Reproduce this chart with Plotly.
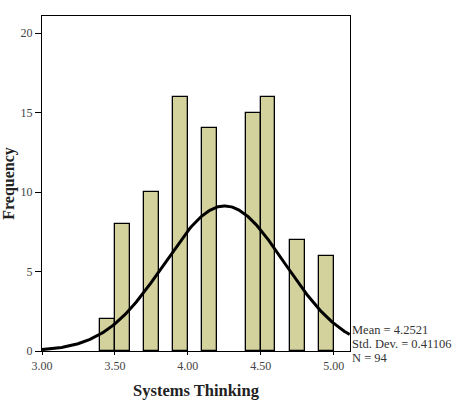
import numpy as np
import plotly.graph_objects as go

bin_starts = [3.4, 3.5, 3.7, 3.9, 4.1, 4.4, 4.5, 4.7, 4.9]
counts = [2, 8, 10, 16, 14, 15, 16, 7, 6]
bin_width = 0.1
mean = 4.2521
sd = 0.41106
n = 94
x_ticks = [3.0, 3.5, 4.0, 4.5, 5.0]
x_tick_labels = ["3.00", "3.50", "4.00", "4.50", "5.00"]
y_ticks = [0, 5, 10, 15, 20]
stats = ["Mean = 4.2521", "Std. Dev. = 0.41106", "N = 94"]

centers = [b + bin_width / 2 for b in bin_starts]
xs = np.linspace(3.0, 5.11, 300)
ys = n * bin_width / (sd * np.sqrt(2 * np.pi)) * np.exp(-0.5 * ((xs - mean) / sd) ** 2)

fig = go.Figure()
fig.add_trace(go.Bar(x=centers, y=counts, width=bin_width,
                     marker=dict(color="#D3D19C", line=dict(color="black", width=1.3)),
                     hoverinfo="skip"))
fig.add_trace(go.Scatter(x=xs, y=ys, mode="lines", line=dict(color="black", width=3),
                         hoverinfo="skip"))

font = "Liberation Serif, Times New Roman, serif"
fig.update_layout(
    width=452, height=408, showlegend=False,
    margin=dict(l=42, r=102, t=16, b=57),
    paper_bgcolor="white", plot_bgcolor="white",
    font=dict(family=font, color="#333333", size=12),
    bargap=0,
)
fig.update_xaxes(range=[3.0, 5.112], tickvals=x_ticks, ticktext=x_tick_labels,
                 showgrid=False, zeroline=False, showline=True, linecolor="black", linewidth=1.2,
                 mirror=True, ticks="outside", ticklen=3, tickcolor="black", automargin=False,
                 tickfont=dict(family=font, size=12, color="#444444"),
                 title=dict(text="<b>Systems Thinking</b>", font=dict(family=font, size=16.5, color="#222222"),
                            standoff=12))
fig.update_yaxes(range=[0, 21.07], tickvals=y_ticks,
                 showgrid=False, zeroline=False, showline=True, linecolor="black", linewidth=1.2,
                 mirror=True, ticks="outside", ticklen=6, tickcolor="black", automargin=False,
                 tickfont=dict(family=font, size=12, color="#444444"),
                 title=dict(text="<b>Frequency</b>", font=dict(family=font, size=16, color="#222222"),
                            standoff=10))

plot_h = 408 - 16 - 57
for i, t in enumerate(stats):
    ypix = 330 + 14 * i
    fig.add_annotation(text=t, xref="paper", yref="paper", x=1.0, xanchor="left", xshift=0,
                       y=(351 - ypix) / plot_h, yanchor="middle", showarrow=False,
                       font=dict(family=font, size=12.5, color="#333333"))

fig.write_html("out.html")
